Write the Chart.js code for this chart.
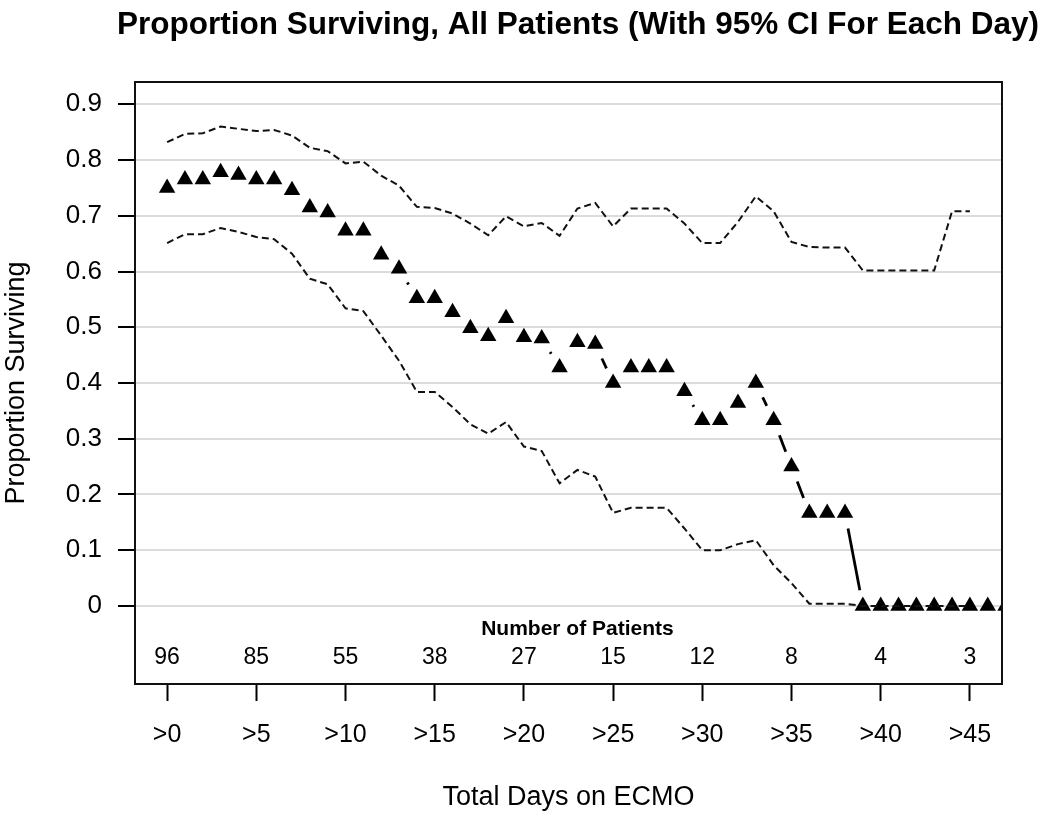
<!DOCTYPE html>
<html><head><meta charset="utf-8">
<script src="https://cdn.jsdelivr.net/npm/chart.js@4.4.1/dist/chart.umd.min.js"></script>
<style>html,body{margin:0;padding:0;background:#fff;}#wrap{width:1050px;height:816px;}</style>
</head><body><div id="wrap"><canvas id="c" width="1050" height="816"></canvas></div>
<script>
// ---- data ----
const days = [0,1,2,3,4,5,6,7,8,9,10,11,12,13,14,15,16,17,18,19,20,21,22,23,24,25,26,27,28,29,30,31,32,33,34,35,36,37,38,39,40,41,42,43,44,45,46,47];
const survival = [0.75,0.765,0.765,0.778,0.773,0.765,0.765,0.746,0.715,0.706,0.673,0.673,0.63,0.605,0.552,0.552,0.527,0.498,0.484,0.516,0.482,0.48,0.428,0.473,0.47,0.4,0.428,0.428,0.428,0.385,0.333,0.333,0.364,0.4,0.333,0.25,0.167,0.167,0.167,0,0,0,0,0,0,0,0,0];
const ciDays = [0,1,2,3,4,5,6,7,8,9,10,11,12,13,14,15,16,17,18,19,20,21,22,23,24,25,26,27,28,29,30,31,32,33,34,35,36,37,38,39,40,41,42,43,44,45];
const upperCI = [0.832,0.847,0.848,0.860,0.856,0.852,0.854,0.844,0.822,0.816,0.794,0.797,0.772,0.754,0.716,0.714,0.704,0.686,0.665,0.699,0.681,0.687,0.664,0.713,0.723,0.681,0.713,0.713,0.713,0.686,0.651,0.651,0.689,0.735,0.708,0.653,0.644,0.643,0.643,0.602,0.602,0.602,0.602,0.602,0.708,0.708];
const lowerCI = [0.651,0.667,0.667,0.678,0.671,0.662,0.658,0.632,0.587,0.577,0.534,0.529,0.485,0.440,0.384,0.384,0.357,0.326,0.309,0.330,0.286,0.278,0.220,0.244,0.232,0.167,0.176,0.176,0.176,0.139,0.100,0.100,0.111,0.118,0.073,0.041,0.004,0.004,0.004,0,0,0,0,0,0,0];
const xTickValues = [0,5,10,15,20,25,30,35,40,45];
const yTickValues = [0,0.1,0.2,0.3,0.4,0.5,0.6,0.7,0.8,0.9];
const patientDays = [0,5,10,15,20,25,30,35,40,45];
const patientCounts = [96,85,55,38,27,15,12,8,4,3];
const titleText = 'Proportion Surviving, All Patients (With 95% CI For Each Day)';
const xTitle = 'Total Days on ECMO';
const yTitle = 'Proportion Surviving';
const patientsHeader = 'Number of Patients';

const FONT = "'Liberation Sans', Arial, Helvetica, sans-serif";

const linkPlugin = {
  id: 'links',
  beforeDatasetsDraw(chart) {
    const pts = chart.getDatasetMeta(2).data;
    const a = chart.chartArea, ctx = chart.ctx, GAP = 16;
    ctx.save();
    ctx.beginPath(); ctx.rect(a.left, a.top, a.right - a.left, a.bottom - a.top); ctx.clip();
    ctx.strokeStyle = '#000'; ctx.lineWidth = 2.8; ctx.lineCap = 'butt';
    for (let i = 0; i < pts.length - 1; i++) {
      const p = pts[i], q = pts[i + 1];
      const dx = q.x - p.x, dy = q.y - p.y, len = Math.hypot(dx, dy);
      if (len > 2 * GAP) {
        const ux = dx / len, uy = dy / len;
        ctx.beginPath();
        ctx.moveTo(p.x + ux * GAP, p.y + uy * GAP);
        ctx.lineTo(q.x - ux * GAP, q.y - uy * GAP);
        ctx.stroke();
      }
    }
    ctx.restore();
  }
};

const textPlugin = {
  id: 'texts',
  afterDatasetsDraw(chart) {
    const ctx = chart.ctx, xs = chart.scales.x, ys = chart.scales.y;
    ctx.save();
    ctx.fillStyle = '#000'; ctx.textAlign = 'center'; ctx.textBaseline = 'middle';
    ctx.font = 'bold 21px ' + FONT;
    ctx.fillText(patientsHeader, xs.getPixelForValue(23), ys.getPixelForValue(-0.042));
    ctx.font = '23px ' + FONT;
    patientDays.forEach((d, i) => ctx.fillText(String(patientCounts[i]), xs.getPixelForValue(d), ys.getPixelForValue(-0.092)));
    ctx.restore();
  },
  afterDraw(chart) {
    const a = chart.chartArea, ctx = chart.ctx;
    ctx.save(); ctx.strokeStyle = '#111'; ctx.lineWidth = 2;
    ctx.strokeRect(a.left, a.top, a.right - a.left, a.bottom - a.top);
    ctx.fillStyle = '#000'; ctx.textAlign = 'center'; ctx.textBaseline = 'middle';
    ctx.font = 'bold 31.5px ' + FONT;
    ctx.fillText(titleText, 578, 25);
    ctx.restore();
  }
};

new Chart(document.getElementById('c'), {
  type: 'line',
  data: {
    datasets: [
      { label: 'Upper 95% CI', data: ciDays.map((d, i) => ({ x: d, y: upperCI[i] })), borderColor: '#111', borderWidth: 2, borderDash: [7, 4], pointRadius: 0, fill: false, tension: 0 },
      { label: 'Lower 95% CI', data: ciDays.map((d, i) => ({ x: d, y: lowerCI[i] })), borderColor: '#111', borderWidth: 2, borderDash: [7, 4], pointRadius: 0, fill: false, tension: 0 },
      { label: 'Proportion surviving', data: days.map((d, i) => ({ x: d, y: survival[i] })), showLine: false, pointStyle: 'triangle', pointRadius: 9.5, pointBackgroundColor: '#000', pointBorderWidth: 0, pointBorderColor: '#000', clip: 0 }
    ]
  },
  options: {
    responsive: false, animation: false, devicePixelRatio: 1,
    layout: { padding: { left: 0, right: 48, top: 82, bottom: 0 } },
    plugins: {
      legend: { display: false }, tooltip: { enabled: false }, title: { display: false }
    },
    scales: {
      x: {
        type: 'linear', min: -1.8, max: 46.8,
        afterBuildTicks: s => { s.ticks = xTickValues.map(v => ({ value: v })); },
        afterFit: s => { s.height = 132; },
        ticks: { callback: v => '>' + v, color: '#000', font: { family: FONT, size: 25 }, padding: 19, maxRotation: 0, autoSkip: false },
        grid: { drawOnChartArea: false, drawTicks: true, tickLength: 17, tickColor: '#000', tickWidth: 2 },
        border: { display: true, color: '#111', width: 2 },
        title: { display: true, text: xTitle, color: '#000', font: { family: FONT, size: 27 }, padding: { top: 0, bottom: 2 } }
      },
      y: {
        min: -0.14, max: 0.94,
        afterBuildTicks: s => { s.ticks = yTickValues.map(v => ({ value: v })); },
        afterFit: s => { s.width = 135; },
        ticks: { callback: v => (v === 0 ? '0' : v.toFixed(1)), color: '#000', font: { family: FONT, size: 26 }, padding: 16, autoSkip: false },
        grid: { color: '#dcdcdc', lineWidth: 2, drawTicks: true, tickLength: 17, tickColor: '#000', tickWidth: 2 },
        border: { display: true, color: '#111', width: 2 },
        title: { display: true, text: yTitle, color: '#000', font: { family: FONT, size: 27 }, padding: { top: 0, bottom: 5 } }
      }
    }
  },
  plugins: [linkPlugin, textPlugin]
});
</script></body></html>
